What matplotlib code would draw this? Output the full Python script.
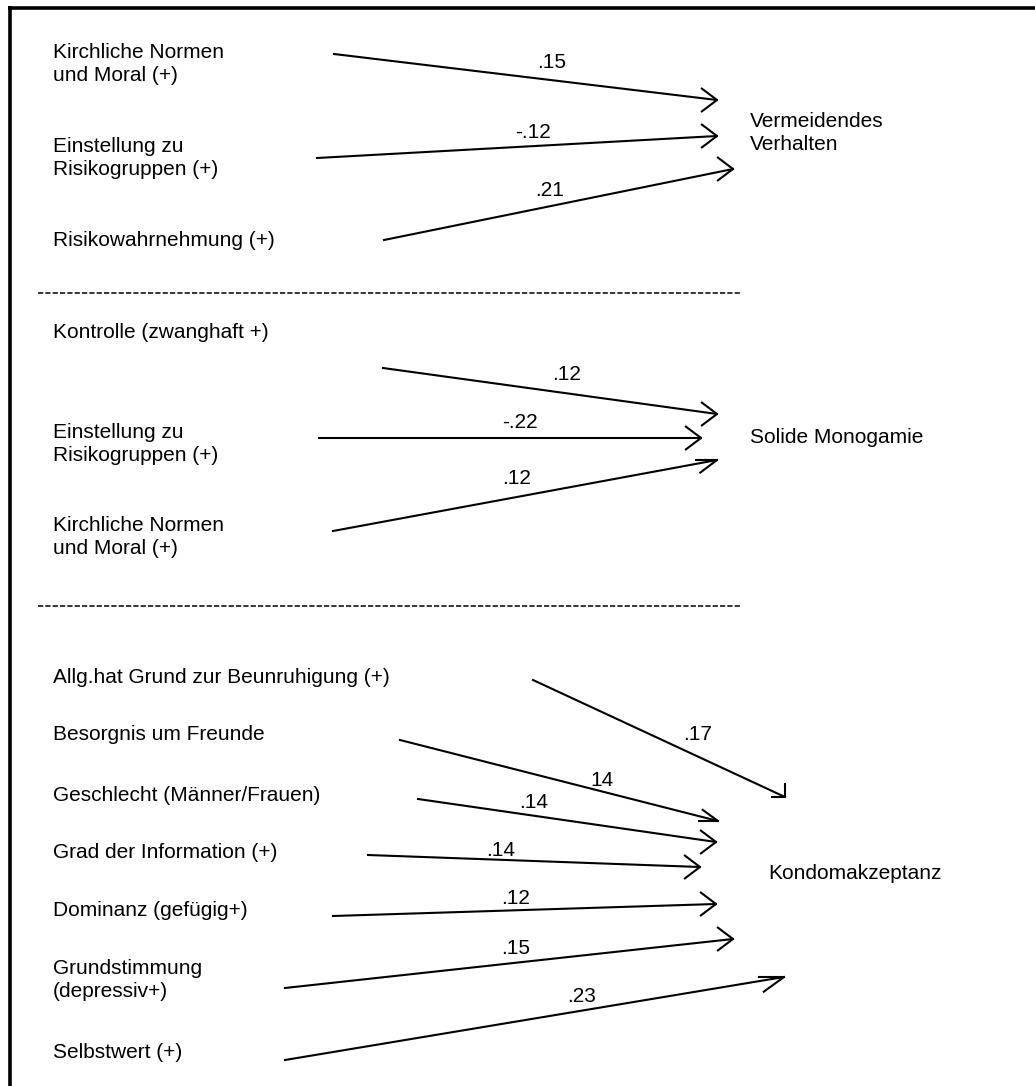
import numpy as np
import matplotlib.pyplot as plt

plt.rcParams['font.family'] = ['Liberation Sans', 'DejaVu Sans']

# --- section 1: Vermeidendes Verhalten ---
s1_sources = ["Kirchliche Normen\nund Moral (+)", "Einstellung zu\nRisikogruppen (+)",
              "Risikowahrnehmung (+)"]
s1_source_y = [58, 152, 246]
s1_target = "Vermeidendes\nVerhalten"
s1_target_xy = (750, 127)
s1_coef = [".15", "-.12", ".21"]
s1_coef_xy = [(552, 63), (533, 132), (550, 190)]
s1_start = [(334, 54), (317, 158), (384, 240)]
s1_end = [(717, 100), (717, 136), (733, 169)]

# --- section 2: Solide Monogamie ---
s2_sources = ["Kontrolle (zwanghaft +)", "Einstellung zu\nRisikogruppen (+)",
              "Kirchliche Normen\nund Moral (+)"]
s2_source_y = [338, 438, 531]
s2_target = "Solide Monogamie"
s2_target_xy = (750, 443)
s2_coef = [".12", "-.22", ".12"]
s2_coef_xy = [(567, 375), (520, 422), (517, 478)]
s2_start = [(383, 368), (319, 438), (333, 531)]
s2_end = [(717, 414), (701, 438), (717, 460)]

# --- section 3: Kondomakzeptanz ---
s3_sources = ["Allg.hat Grund zur Beunruhigung (+)", "Besorgnis um Freunde",
              "Geschlecht (Männer/Frauen)", "Grad der Information (+)",
              "Dominanz (gefügig+)", "Grundstimmung\n(depressiv+)", "Selbstwert (+)"]
s3_source_y = [683, 740, 801, 858, 916, 974, 1058]
s3_target = "Kondomakzeptanz"
s3_target_xy = (768, 879)
s3_coef = [".17", "14", ".14", ".14", ".12", ".15", ".23"]
s3_coef_xy = [(698, 735), (602, 781), (534, 803), (501, 850), (516, 899), (516, 948), (582, 996)]
s3_start = [(533, 680), (400, 740), (418, 799), (368, 855), (333, 916), (285, 988), (285, 1060)]
s3_end = [(785, 797), (718, 821), (716, 842), (700, 867), (716, 904), (733, 939), (784, 977)]

# barb directions (deg, y pointing down) for the arrow heads that are not plain
odd_heads = {("s2", 2): (180, 143, 22), ("s3", 0): (270, 180, 14),
             ("s3", 1): (216, 180, 20), ("s3", 6): (180, 144, 26)}
plain_head = (217, 143, 20)

divider_y = [293, 606]

fig = plt.figure(figsize=(10.35, 10.86), dpi=100)
ax = fig.add_axes([0, 0, 1, 1])
ax.set_xlim(0, 1035)
ax.set_ylim(1086, 0)
ax.axis('off')

fs = 15
lw = 1.5
line_gap = 23  # distance between the baselines of a two-line label

# frame: only top and left edge are visible
ax.plot([8, 1035], [7.5, 7.5], color='black', lw=2.6, solid_capstyle='butt')
ax.plot([10, 10], [6, 1086], color='black', lw=2.6, solid_capstyle='butt')

for y in divider_y:
    ln, = ax.plot([38, 740], [y, y], color='black', lw=1.1)
    ln.set_dashes([3.4, 1.4])


def put_label(x, y, text):
    for k, part in enumerate(text.split("\n")):
        ax.text(x, y + k * line_gap, part, fontsize=fs, va='baseline', ha='left')


def draw_section(tag, sources, source_y, target, target_xy, coef, coef_xy, start, end):
    for lab, y in zip(sources, source_y):
        put_label(53, y, lab)
    put_label(target_xy[0], target_xy[1], target)
    for i, (p0, p1) in enumerate(zip(start, end)):
        ax.plot([p0[0], p1[0]], [p0[1], p1[1]], color='black', lw=lw)
        a1, a2, L = odd_heads.get((tag, i), plain_head)
        for a in (a1, a2):
            r = np.deg2rad(a)
            ax.plot([p1[0], p1[0] + L * np.cos(r)], [p1[1], p1[1] + L * np.sin(r)],
                    color='black', lw=lw, solid_capstyle='butt')
    for c, (x, y) in zip(coef, coef_xy):
        ax.text(x, y, c, fontsize=fs, ha='center', va='center')


draw_section("s1", s1_sources, s1_source_y, s1_target, s1_target_xy, s1_coef, s1_coef_xy,
             s1_start, s1_end)
draw_section("s2", s2_sources, s2_source_y, s2_target, s2_target_xy, s2_coef, s2_coef_xy,
             s2_start, s2_end)
draw_section("s3", s3_sources, s3_source_y, s3_target, s3_target_xy, s3_coef, s3_coef_xy,
             s3_start, s3_end)

plt.savefig('out.png', dpi=100, facecolor='white')
